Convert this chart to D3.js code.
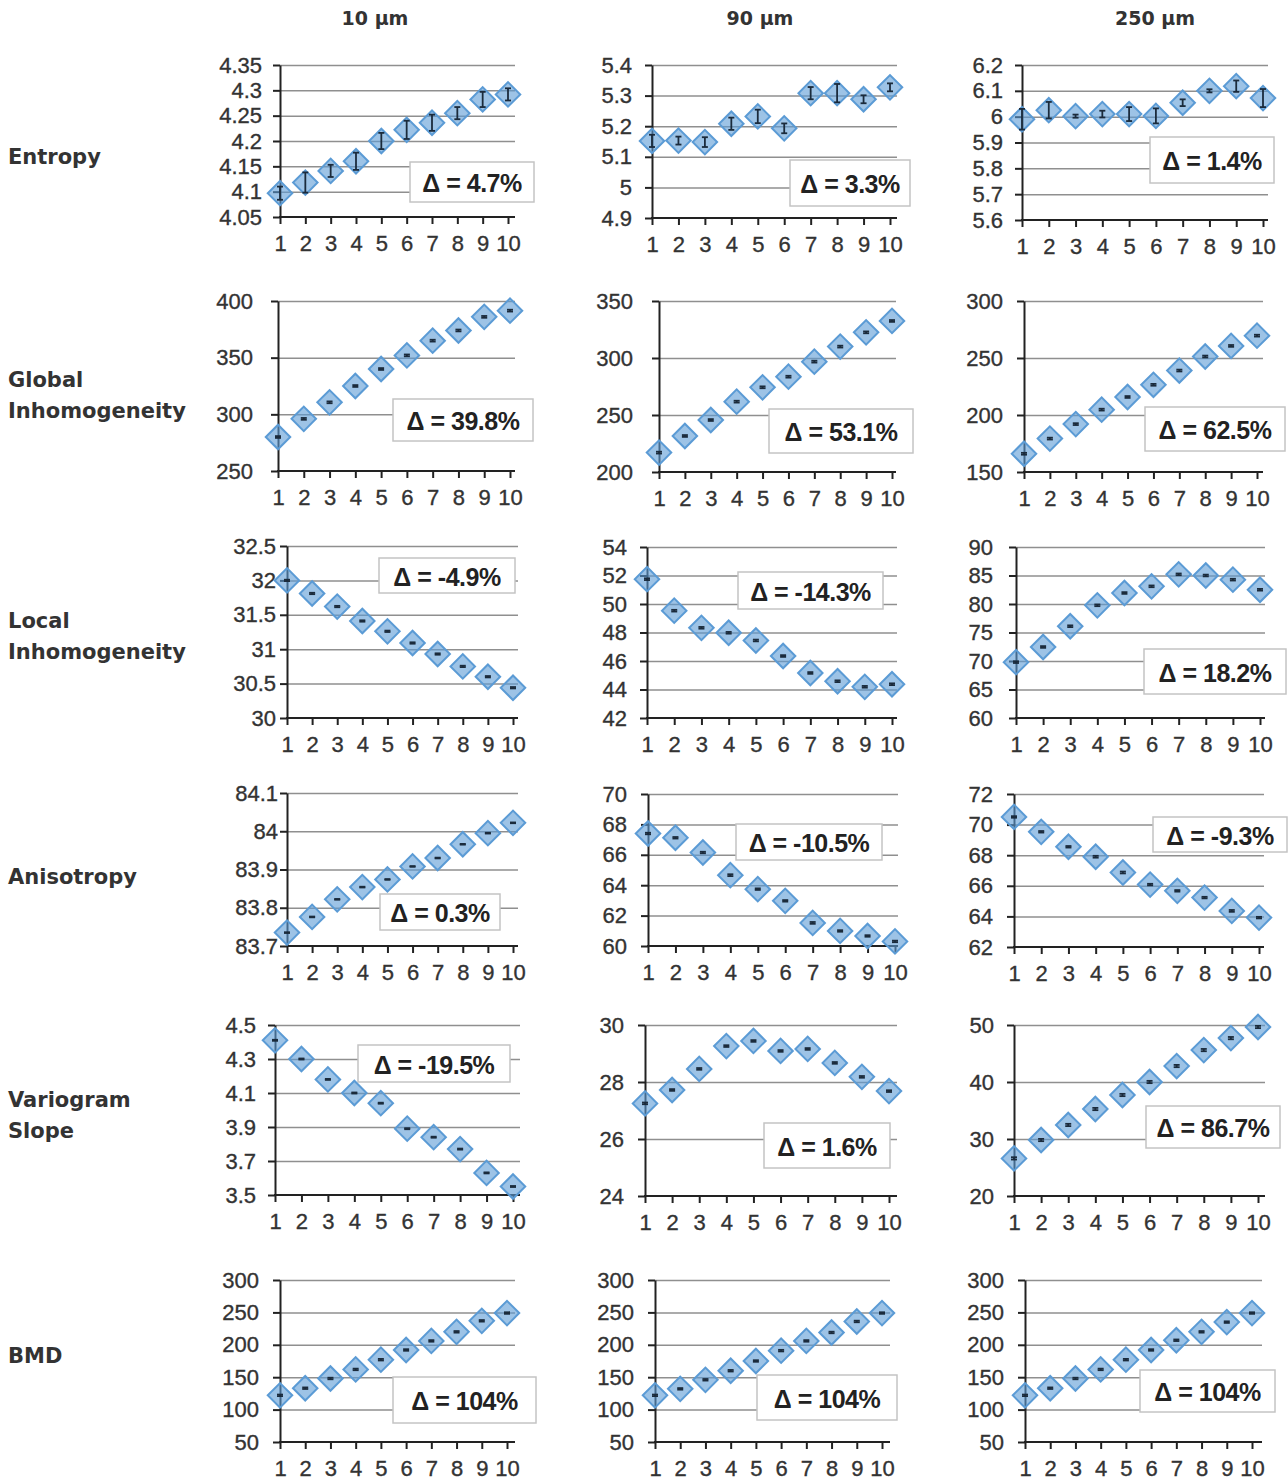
<!DOCTYPE html>
<html>
<head>
<meta charset="utf-8">
<script src="https://cdn.jsdelivr.net/npm/d3@7"></script>
<style>
  html, body { margin: 0; padding: 0; background: #fff; }
  svg { display: block; }
</style>
</head>
<body>
<script>
// ---- Column / row names ----
const columns = ["10 µm", "90 µm", "250 µm"];
const rowNames = [["Entropy"], ["Global", "Inhomogeneity"], ["Local", "Inhomogeneity"],
                  ["Anisotropy"], ["Variogram", "Slope"], ["BMD"]];
const xCategories = [1, 2, 3, 4, 5, 6, 7, 8, 9, 10];

// ---- Series values (mean per step) and error half-widths ----
const entropy10  = [4.097, 4.118, 4.141, 4.160, 4.200, 4.222, 4.236, 4.255, 4.282, 4.292];
const entropy10E = [0.013, 0.020, 0.012, 0.017, 0.016, 0.018, 0.016, 0.012, 0.015, 0.012];
const entropy90  = [5.152, 5.153, 5.148, 5.208, 5.232, 5.193, 5.308, 5.308, 5.288, 5.327];
const entropy90E = [0.020, 0.013, 0.016, 0.020, 0.022, 0.016, 0.020, 0.030, 0.013, 0.013];
const entropy250  = [5.990, 6.025, 6.002, 6.010, 6.010, 6.003, 6.054, 6.100, 6.118, 6.072];
const entropy250E = [0.040, 0.032, 0.006, 0.013, 0.027, 0.029, 0.013, 0.006, 0.022, 0.035];

const global10  = [280, 296, 310.6, 325, 340, 352, 365, 374, 386, 391.5];
const global10E = [0.8, 0.8, 0.8, 0.8, 0.8, 0.8, 0.8, 0.8, 0.8, 0.8];
const global90  = [217, 231.6, 245.6, 261.7, 274.3, 283.6, 296.8, 310, 322.5, 332.5];
const global90E = [0.8, 0.8, 0.8, 0.8, 0.8, 0.8, 0.8, 0.8, 0.8, 0.8];
const global250  = [166, 179.3, 192, 204.7, 215.8, 226.5, 239, 251.3, 260.6, 269.6];
const global250E = [0.8, 0.8, 0.8, 0.8, 0.8, 0.8, 0.8, 0.8, 0.8, 0.8];

const local10  = [32.00, 31.81, 31.62, 31.41, 31.26, 31.09, 30.93, 30.75, 30.60, 30.44];
const local10E = [0.01, 0.01, 0.01, 0.01, 0.01, 0.01, 0.01, 0.01, 0.01, 0.01];
const local90  = [51.74, 49.53, 48.33, 47.98, 47.44, 46.35, 45.16, 44.58, 44.19, 44.37];
const local90E = [0.06, 0.06, 0.06, 0.06, 0.06, 0.06, 0.06, 0.06, 0.06, 0.06];
const local250  = [69.8, 72.46, 76.1, 79.77, 81.93, 83.1, 85.2, 85.0, 84.27, 82.5];
const local250E = [0.15, 0.15, 0.15, 0.15, 0.15, 0.15, 0.15, 0.15, 0.15, 0.15];

const aniso10  = [83.735, 83.776, 83.822, 83.854, 83.874, 83.908, 83.930, 83.966, 83.995, 84.022];
const aniso10E = [0.001, 0.001, 0.001, 0.001, 0.001, 0.001, 0.001, 0.001, 0.001, 0.001];
const aniso90  = [67.40, 67.12, 66.15, 64.66, 63.74, 62.97, 61.52, 60.99, 60.66, 60.30];
const aniso90E = [0.05, 0.05, 0.05, 0.06, 0.05, 0.05, 0.06, 0.05, 0.05, 0.05];
const aniso250  = [70.50, 69.53, 68.55, 67.90, 66.87, 66.08, 65.67, 65.23, 64.36, 63.92];
const aniso250E = [0.05, 0.05, 0.05, 0.06, 0.06, 0.05, 0.05, 0.05, 0.06, 0.05];

const vario10  = [4.41, 4.30, 4.18, 4.10, 4.04, 3.89, 3.84, 3.77, 3.63, 3.55];
const vario10E = [0.003, 0.003, 0.003, 0.003, 0.003, 0.003, 0.003, 0.003, 0.003, 0.003];
const vario90  = [27.25, 27.72, 28.46, 29.26, 29.44, 29.09, 29.16, 28.67, 28.18, 27.68];
const vario90E = [0.03, 0.03, 0.03, 0.03, 0.03, 0.03, 0.03, 0.03, 0.03, 0.03];
const vario250  = [26.6, 29.82, 32.46, 35.26, 37.72, 40.0, 42.8, 45.6, 47.7, 49.65];
const vario250E = [0.2, 0.2, 0.2, 0.2, 0.2, 0.2, 0.2, 0.2, 0.2, 0.2];

const bmd10  = [122, 133, 148, 162, 177, 192, 206, 220, 237, 249];
const bmd10E = [1.2, 1.2, 1.2, 1.2, 1.2, 1.2, 1.2, 1.2, 1.2, 1.2];
const bmd90  = [122, 132, 146, 160, 175, 191, 206, 219, 236, 249];
const bmd90E = [1.2, 1.2, 1.2, 1.2, 1.2, 1.2, 1.2, 1.2, 1.2, 1.2];
const bmd250  = [122, 133, 148, 162, 177, 192, 207, 220, 235, 249];
const bmd250E = [1.2, 1.2, 1.2, 1.2, 1.2, 1.2, 1.2, 1.2, 1.2, 1.2];

// ---- Y tick values per panel ----
const yTicks = [
  [[4.05, 4.1, 4.15, 4.2, 4.25, 4.3, 4.35], [4.9, 5, 5.1, 5.2, 5.3, 5.4], [5.6, 5.7, 5.8, 5.9, 6, 6.1, 6.2]],
  [[250, 300, 350, 400], [200, 250, 300, 350], [150, 200, 250, 300]],
  [[30, 30.5, 31, 31.5, 32, 32.5], [42, 44, 46, 48, 50, 52, 54], [60, 65, 70, 75, 80, 85, 90]],
  [[83.7, 83.8, 83.9, 84, 84.1], [60, 62, 64, 66, 68, 70], [62, 64, 66, 68, 70, 72]],
  [[3.5, 3.7, 3.9, 4.1, 4.3, 4.5], [24, 26, 28, 30], [20, 30, 40, 50]],
  [[50, 100, 150, 200, 250, 300], [50, 100, 150, 200, 250, 300], [50, 100, 150, 200, 250, 300]]
];

// ---- Percent change labels ----
const deltaLabels = [
  ["Δ = 4.7%", "Δ = 3.3%", "Δ = 1.4%"],
  ["Δ = 39.8%", "Δ = 53.1%", "Δ = 62.5%"],
  ["Δ = -4.9%", "Δ = -14.3%", "Δ = 18.2%"],
  ["Δ = 0.3%", "Δ = -10.5%", "Δ = -9.3%"],
  ["Δ = -19.5%", "Δ = 1.6%", "Δ = 86.7%"],
  ["Δ = 104%", "Δ = 104%", "Δ = 104%"]
];

const series = [
  [[entropy10, entropy10E], [entropy90, entropy90E], [entropy250, entropy250E]],
  [[global10, global10E], [global90, global90E], [global250, global250E]],
  [[local10, local10E], [local90, local90E], [local250, local250E]],
  [[aniso10, aniso10E], [aniso90, aniso90E], [aniso250, aniso250E]],
  [[vario10, vario10E], [vario90, vario90E], [vario250, vario250E]],
  [[bmd10, bmd10E], [bmd90, bmd90E], [bmd250, bmd250E]]
];

// ---- Panel geometry: axis x, x of step 10, grid right end, top/bottom y, label gap, delta box ----
const layout = [
  [ {ax: 280, x10: 508, xr: 515, yt: 65, yb: 217, gap: 18, box: [410, 162, 534, 202]},
    {ax: 652, x10: 890, xr: 897, yt: 65, yb: 218, gap: 20, box: [790, 160, 910, 206]},
    {ax: 1022, x10: 1263, xr: 1268, yt: 65, yb: 220, gap: 19, box: [1150, 137, 1274, 183]} ],
  [ {ax: 278, x10: 510, xr: 515, yt: 301, yb: 471, gap: 25, box: [393, 399, 533, 441]},
    {ax: 659, x10: 892, xr: 896, yt: 301, yb: 472, gap: 26, box: [769, 409, 913, 453]},
    {ax: 1024, x10: 1257, xr: 1263, yt: 301, yb: 472, gap: 21, box: [1145, 407, 1285, 451]} ],
  [ {ax: 287, x10: 513, xr: 518, yt: 546, yb: 718, gap: 11, box: [379, 558, 515, 593]},
    {ax: 647, x10: 892, xr: 897, yt: 547, yb: 718, gap: 20, box: [738, 572, 883, 609]},
    {ax: 1016, x10: 1260, xr: 1265, yt: 547, yb: 718, gap: 23, box: [1144, 649, 1286, 694]} ],
  [ {ax: 287, x10: 513, xr: 518, yt: 793, yb: 946, gap: 9, box: [380, 894, 500, 930]},
    {ax: 648, x10: 895, xr: 898, yt: 794, yb: 946, gap: 21, box: [736, 824, 882, 860]},
    {ax: 1014, x10: 1259, xr: 1264, yt: 794, yb: 947, gap: 21, box: [1153, 817, 1287, 852]} ],
  [ {ax: 275, x10: 513, xr: 520, yt: 1025, yb: 1195, gap: 19, box: [358, 1045, 510, 1082]},
    {ax: 645, x10: 889, xr: 897, yt: 1025, yb: 1196, gap: 21, box: [764, 1123, 890, 1168]},
    {ax: 1014, x10: 1258, xr: 1265, yt: 1025, yb: 1196, gap: 20, box: [1146, 1106, 1280, 1148]} ],
  [ {ax: 280, x10: 507, xr: 515, yt: 1280, yb: 1442, gap: 21, box: [393, 1377, 536, 1423]},
    {ax: 655, x10: 882, xr: 890, yt: 1280, yb: 1442, gap: 21, box: [757, 1375, 897, 1420]},
    {ax: 1025, x10: 1252, xr: 1262, yt: 1280, yb: 1442, gap: 21, box: [1140, 1370, 1275, 1412]} ]
];

const colCenters = [375, 760, 1155];
const rowLabelY = [[157], [380, 411], [621, 652], [877], [1100, 1131], [1356]];

const tickFont = "'Liberation Sans', Arial, sans-serif";
const titleFont = "'DejaVu Sans', Verdana, sans-serif";

const svg = d3.select("body").append("svg")
  .attr("width", 1288).attr("height", 1480);
svg.append("rect").attr("width", 1288).attr("height", 1480).attr("fill", "#fff");

// Column headers
svg.selectAll("text.col").data(columns).join("text")
  .attr("class", "col")
  .attr("x", (d, i) => colCenters[i]).attr("y", 18)
  .attr("text-anchor", "middle").attr("dominant-baseline", "central")
  .attr("font-family", titleFont).attr("font-weight", "bold")
  .attr("font-size", 19).attr("fill", "#333")
  .text(d => d);

// Row headers
rowNames.forEach((lines, r) => {
  lines.forEach((t, k) => {
    svg.append("text")
      .attr("x", 8).attr("y", rowLabelY[r][k])
      .attr("dominant-baseline", "central")
      .attr("font-family", titleFont).attr("font-weight", "bold")
      .attr("font-size", 21).attr("fill", "#333")
      .text(t);
  });
});

const diamond = d3.symbol(d3.symbolSquare, 300);

function styleTickText(sel) {
  sel.attr("font-family", tickFont).attr("font-size", 22).attr("fill", "#333")
    .attr("stroke", "#333").attr("stroke-width", 0.35);
}

series.forEach((rowSeries, r) => {
  rowSeries.forEach(([vals, errs], c) => {
    const L = layout[r][c];
    const ticks = yTicks[r][c];
    const x = d3.scaleLinear().domain([1, 10]).range([L.ax, L.x10]);
    const y = d3.scaleLinear().domain([ticks[0], ticks[ticks.length - 1]]).range([L.yb, L.yt]);
    const g = svg.append("g");

    // horizontal gridlines
    g.append("g")
      .attr("transform", `translate(${L.ax},0)`)
      .call(d3.axisLeft(y).tickValues(ticks.slice(1)).tickSize(-(L.xr - L.ax)).tickFormat(""))
      .call(s => s.select(".domain").remove())
      .call(s => s.selectAll(".tick line").attr("stroke", "#8f8f8f").attr("stroke-width", 1.5));

    // percent-change box
    const [bx0, by0, bx1, by1] = L.box;
    g.append("rect")
      .attr("x", bx0).attr("y", by0)
      .attr("width", bx1 - bx0).attr("height", by1 - by0)
      .attr("fill", "#fff").attr("stroke", "#c4c4c4").attr("stroke-width", 1.5);
    g.append("text")
      .attr("x", (bx0 + bx1) / 2).attr("y", (by0 + by1) / 2 + 1)
      .attr("text-anchor", "middle").attr("dominant-baseline", "central")
      .attr("font-family", tickFont).attr("font-weight", "bold")
      .attr("font-size", 25).attr("letter-spacing", -0.5).attr("fill", "#222")
      .text(deltaLabels[r][c]);

    // y axis
    g.append("g")
      .attr("transform", `translate(${L.ax},0)`)
      .call(d3.axisLeft(y).tickValues(ticks).tickSize(7).tickSizeOuter(0)
        .tickPadding(L.gap - 7).tickFormat(d => String(d)))
      .call(s => s.select(".domain").attr("stroke", "#222").attr("stroke-width", 2))
      .call(s => s.selectAll(".tick line").attr("stroke", "#222").attr("stroke-width", 2))
      .call(s => styleTickText(s.selectAll(".tick text")));

    // x axis
    g.append("g")
      .attr("transform", `translate(0,${L.yb})`)
      .call(d3.axisBottom(x).tickValues(xCategories).tickSize(7).tickSizeOuter(0)
        .tickPadding(11).tickFormat(d3.format("d")))
      .call(s => s.select(".domain").remove())
      .call(s => s.selectAll(".tick line").attr("stroke", "#222").attr("stroke-width", 2))
      .call(s => styleTickText(s.selectAll(".tick text")));
    g.append("line")
      .attr("x1", L.ax - 1).attr("x2", L.xr)
      .attr("y1", L.yb).attr("y2", L.yb)
      .attr("stroke", "#222").attr("stroke-width", 2);

    // diamond markers
    g.selectAll("path.pt").data(vals).join("path")
      .attr("class", "pt")
      .attr("d", diamond)
      .attr("transform", (d, i) => `translate(${x(xCategories[i])},${y(d)}) rotate(45)`)
      .attr("fill", "rgba(91,155,213,0.6)")
      .attr("stroke", "#5b9bd5").attr("stroke-width", 2);

    // error bars
    const eb = g.selectAll("g.eb").data(vals).join("g").attr("class", "eb")
      .attr("stroke", "#1b2b3c").attr("stroke-width", 1.8);
    eb.append("line")
      .attr("x1", (d, i) => x(xCategories[i])).attr("x2", (d, i) => x(xCategories[i]))
      .attr("y1", (d, i) => y(d - errs[i])).attr("y2", (d, i) => y(d + errs[i]));
    eb.append("line")
      .attr("x1", (d, i) => x(xCategories[i]) - 3).attr("x2", (d, i) => x(xCategories[i]) + 3)
      .attr("y1", (d, i) => y(d - errs[i])).attr("y2", (d, i) => y(d - errs[i]));
    eb.append("line")
      .attr("x1", (d, i) => x(xCategories[i]) - 3).attr("x2", (d, i) => x(xCategories[i]) + 3)
      .attr("y1", (d, i) => y(d + errs[i])).attr("y2", (d, i) => y(d + errs[i]));
  });
});
</script>
</body>
</html>
